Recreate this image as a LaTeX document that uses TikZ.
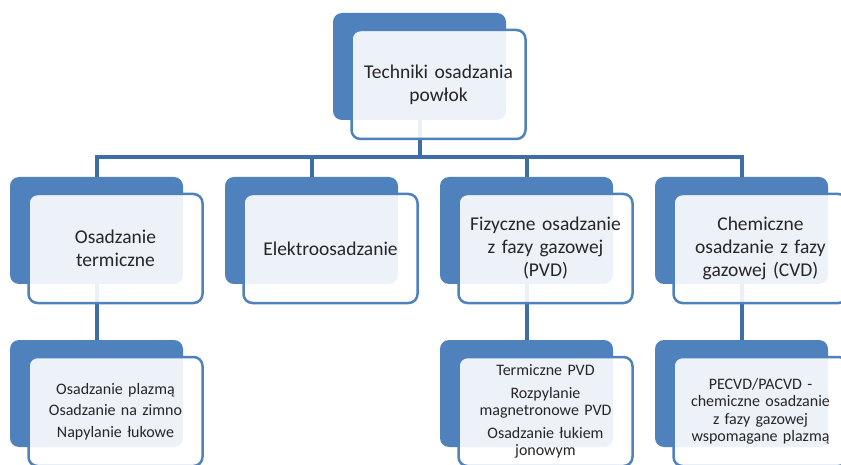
\documentclass[tikz,border=0pt]{standalone}
\usepackage{fontspec}
\setmainfont{Carlito}
\definecolor{smartblue}{HTML}{4F81BD}
\definecolor{linkblue}{HTML}{3F6DA6}
\definecolor{textgray}{HTML}{262626}
\begin{document}
\begin{tikzpicture}[x=1pt, y=-1pt,
        back/.style={fill=smartblue, rounded corners=9pt, minimum width=173pt, minimum height=107pt, inner sep=0pt},
        front/.style={draw=smartblue, line width=2.5pt, fill=white, fill opacity=0.9, text opacity=1, rounded corners=9pt,
            minimum width=174pt, minimum height=109pt, inner sep=0pt, text width=164pt, align=center, text=textgray},
        big/.style={font=\fontsize{19.5}{23}\selectfont},
        small/.style={font=\fontsize{16}{17.5}\selectfont},
        link/.style={draw=linkblue, line width=4pt}]
    \useasboundingbox (0,0) rectangle (841,465);
    % back plates
    \node[back] (root) at (419.5,66.5) {};
    \node[back] (thermal) at (96.5,230.5) {};
    \node[back] (electro) at (311.5,230.5) {};
    \node[back] (pvd) at (526.5,230.5) {};
    \node[back] (cvd) at (741.5,230.5) {};
    \node[back] (thermalsub) at (96.5,393.5) {};
    \node[back] (pvdsub) at (526.5,393.5) {};
    \node[back] (cvdsub) at (741.5,393.5) {};
    % connectors
    \draw[link] (root.south) -- ++(0,37) -| (thermal.north);
    \draw[link] (root.south) -- ++(0,37) -| (electro.north);
    \draw[link] (root.south) -- ++(0,37) -| (pvd.north);
    \draw[link] (root.south) -- ++(0,37) -| (cvd.north);
    \draw[link] (thermal.south) -- (thermalsub.north);
    \draw[link] (pvd.south) -- (pvdsub.north);
    \draw[link] (cvd.south) -- (cvdsub.north);
    % front cards
    \node[front, big] (rootcard) at (438.5,84.5) {Techniki osadzania\\powłok};
    \node[front, big] (thermalcard) at (115.5,248.5) {Osadzanie\\termiczne};
    \node[front, big] (electrocard) at (330.5,248.5) {Elektroosadzanie};
    \node[front, big] (pvdcard) at (545.5,248.5) {Fizyczne osadzanie\\z fazy gazowej\\(PVD)};
    \node[front, big] (cvdcard) at (760.5,248.5) {Chemiczne\\osadzanie z fazy\\gazowej (CVD)};
    \node[front, small] (thermalsubcard) at (115.5,411.5) {Osadzanie plazmą\\[4pt]Osadzanie na zimno\\[4pt]Napylanie łukowe};
    \node[front, small] (pvdsubcard) at (545.5,411.5) {Termiczne PVD\\[5pt]Rozpylanie\\magnetronowe PVD\\[5pt]Osadzanie łukiem\\jonowym};
    \node[front, small] (cvdsubcard) at (760.5,411.5) {PECVD/PACVD -\\chemiczne osadzanie\\z fazy gazowej\\wspomagane plazmą};
\end{tikzpicture}
\end{document}
